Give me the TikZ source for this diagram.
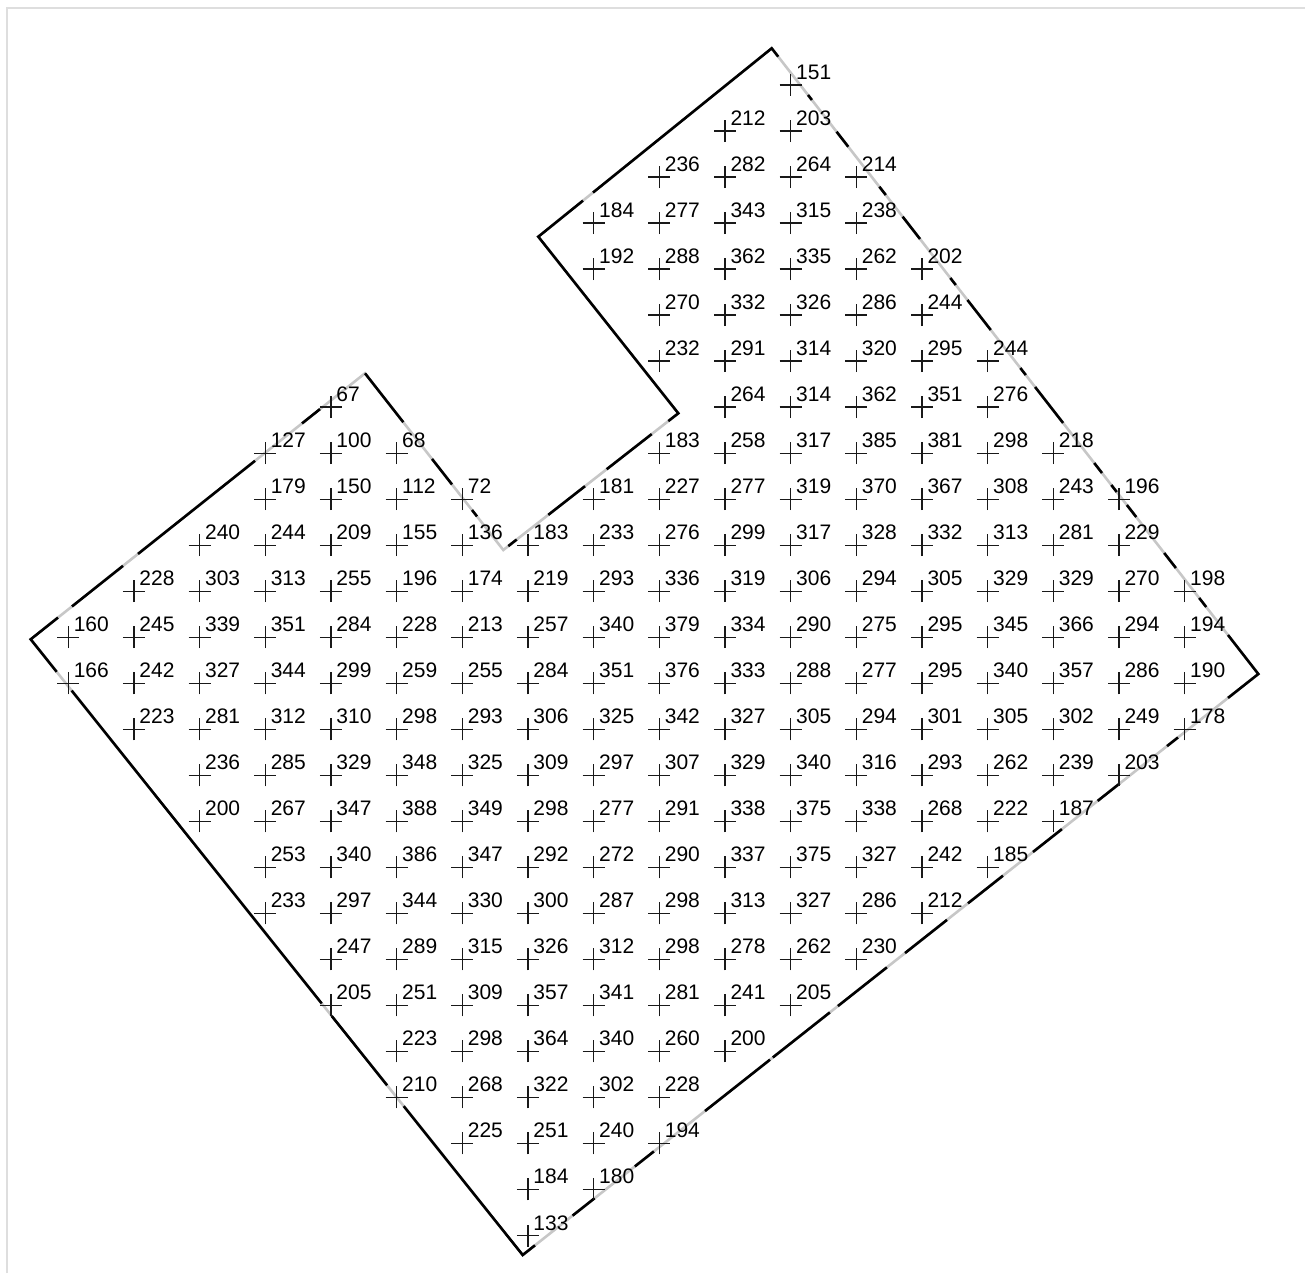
\documentclass[tikz,border=0pt]{standalone}
\usepackage{fontspec}
\setmainfont{Liberation Sans}
\usetikzlibrary{calc}
\tikzset{
  framestyle/.style={draw=black!13, line width=1.5pt},
  edgegray/.style={draw=black!22, line width=2.6pt, line join=miter},
  edgeblack/.style={draw=black, line width=2.6pt, line join=miter},
  plusmark/.style={draw=black!90, line width=1.3pt},
  lbl/.style={anchor=base west, inner sep=0pt, outer sep=0pt, font=\fontsize{21}{24}\selectfont}
}
\begin{document}
\begin{tikzpicture}[x=1pt,y=-1pt]
\useasboundingbox (0,0) rectangle (1305,1273);
% frame (top and left visible)
\coordinate (f1) at (7,1273);
\coordinate (f2) at (7,8);
\coordinate (f3) at (1305,8);
\draw[framestyle] (f1) -- (f2) -- (f3);
% polygon vertices
\coordinate (A) at (771.7,48.3);
\coordinate (R) at (1258.3,674);
\coordinate (B) at (522.7,1255);
\coordinate (L) at (30.7,639.3);
\coordinate (P1) at (365,373.3);
\coordinate (N) at (503.3,550);
\coordinate (Q) at (678.3,413.3);
\coordinate (P2) at (538.3,236.7);
% gray boundary
\draw[edgegray] (A) -- (R) -- (B) -- (L) -- (P1) -- (N) -- (Q) -- (P2) -- cycle;
% black boundary pieces
\draw[edgeblack] ($(P2)!0.2344!(A)$) -- (A) -- ($(A)!0.0134!(R)$);
\foreach \a/\b in {0.0746/0.0826,0.1333/0.1573,0.2212/0.2345,0.2691/0.3048,0.3671/0.3783,0.4023/0.4502,0.5110/0.5222,0.5413/0.5988,0.6628/0.6788,0.6979/0.7091,0.7299/0.7491,0.8066/0.8306,0.8785/0.8929}
  \draw[edgeblack] ($(A)!\a!(R)$) -- ($(A)!\b!(R)$);
\draw[edgeblack] ($(A)!0.9377!(R)$) -- (R) -- ($(R)!0.0412!(B)$);
\foreach \a/\b in {0.1092/0.1241,0.1885/0.2184,0.2670/0.3063,0.3471/0.3947,0.4232/0.4803,0.5049/0.5715,0.5825/0.6600,0.6638/0.7522,0.8217/0.8476,0.9023/0.9322}
  \draw[edgeblack] ($(R)!\a!(B)$) -- ($(R)!\b!(B)$);
\draw[edgeblack] ($(R)!0.9833!(B)$) -- (B) -- ($(B)!0.2418!(L)$);
\foreach \a/\b in {0.2756/0.3882,0.4085/0.9167}
  \draw[edgeblack] ($(B)!\a!(L)$) -- ($(B)!\b!(L)$);
\draw[edgeblack] ($(B)!0.9472!(L)$) -- (L) -- ($(L)!0.0817!(P1)$);
\foreach \a/\b in {0.1235/0.2761,0.3210/0.6710,0.8116/0.8654}
  \draw[edgeblack] ($(L)!\a!(P1)$) -- ($(L)!\b!(P1)$);
\draw[edgeblack] (P1) -- ($(P1)!0.277!(N)$);
\foreach \a/\b in {0.4845/0.6291,0.7737/0.8098}
  \draw[edgeblack] ($(P1)!\a!(N)$) -- ($(P1)!\b!(N)$);
\foreach \a/\b in {0.0286/0.0766,0.2571/0.4669}
  \draw[edgeblack] ($(N)!\a!(Q)$) -- ($(N)!\b!(Q)$);
\draw[edgeblack, shift={(-1.4,-1.8)}] ($(N)!0.5909!(Q)$) -- ($(N)!0.848!(Q)$);
\draw[edgeblack] ($(N)!0.9429!(Q)$) -- (Q) -- (P2) -- ($(P2)!0.1915!(A)$);
% grid of marks and values
\foreach \r/\s/\vals in {
  0/11/{151},
  1/10/{212,203},
  2/9/{236,282,264,214},
  3/8/{184,277,343,315,238},
  4/8/{192,288,362,335,262,202},
  5/9/{270,332,326,286,244},
  6/9/{232,291,314,320,295,244},
  7/4/{67},
  7/10/{264,314,362,351,276},
  8/3/{127,100,68},
  8/9/{183,258,317,385,381,298,218},
  9/3/{179,150,112,72},
  9/8/{181,227,277,319,370,367,308,243,196},
  10/2/{240,244,209,155,136,183,233,276,299,317,328,332,313,281,229},
  11/1/{228,303,313,255,196,174,219,293,336,319,306,294,305,329,329,270,198},
  12/0/{160,245,339,351,284,228,213,257,340,379,334,290,275,295,345,366,294,194},
  13/0/{166,242,327,344,299,259,255,284,351,376,333,288,277,295,340,357,286,190},
  14/1/{223,281,312,310,298,293,306,325,342,327,305,294,301,305,302,249,178},
  15/2/{236,285,329,348,325,309,297,307,329,340,316,293,262,239,203},
  16/2/{200,267,347,388,349,298,277,291,338,375,338,268,222,187},
  17/3/{253,340,386,347,292,272,290,337,375,327,242,185},
  18/3/{233,297,344,330,300,287,298,313,327,286,212},
  19/4/{247,289,315,326,312,298,278,262,230},
  20/4/{205,251,309,357,341,281,241,205},
  21/5/{223,298,364,340,260,200},
  22/5/{210,268,322,302,228},
  23/6/{225,251,240,194},
  24/7/{184,180},
  25/7/{133}}
{
  \foreach \v [count=\k from 0] in \vals {
    \pgfmathsetmacro\cx{68.3+65.67*(\s+\k)}
    \pgfmathsetmacro\cy{85+46.02*\r}
    \pgfmathtruncatemacro\cc{\s+\k}
    \coordinate (p\r-\cc) at (\cx,\cy);
    \draw[plusmark] ([xshift=-11pt]p\r-\cc) -- ([xshift=11pt]p\r-\cc)
                    ([yshift=-11pt]p\r-\cc) -- ([yshift=11pt]p\r-\cc);
    \node[lbl] (v\r-\cc) at ([xshift=5.5pt,yshift=5.5pt]p\r-\cc) {\v};
  }
}
\end{tikzpicture}
\end{document}
